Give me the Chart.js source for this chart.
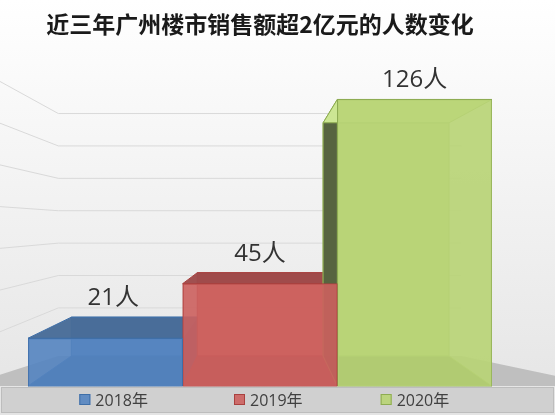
<!DOCTYPE html>
<html><head><meta charset="utf-8">
<script src="https://cdn.jsdelivr.net/npm/chart.js@4/dist/chart.umd.min.js"></script>
<style>html,body{margin:0;padding:0;background:#fff}#w{width:555px;height:415px}</style>
</head><body><div id="w"><canvas id="c"></canvas></div>
<script>
const categories = [""];
const seriesNames = ["2018年", "2019年", "2020年"];
const seriesValues = [21, 45, 126];
const valueSuffix = "人";
const wallTicks = [26, 43.5, 61, 78.5, 96, 113.5, 131];
const titleText = "近三年广州楼市销售额超2亿元的人数变化";

const front = ["rgba(84,132,192,0.9)", "rgba(204,96,94,0.9)", "rgba(184,212,118,0.92)"];
const edge = ["#3f6fa8", "#a9413f", "#8eac52"];
const topC = ["rgba(72,108,152,0.97)", "rgba(158,74,74,0.97)", "rgba(208,234,150,0.97)"];
const sideC = ["rgba(60,95,140,0.95)", "rgba(150,65,65,0.95)", "rgba(84,96,62,0.97)"];
const S = 0.814, VX = 261, VY = 225;
const bk = (x, y) => [VX + S * (x - VX), VY + S * (y - VY)];

function poly(ctx, pts, fill, stroke) {
  ctx.beginPath(); ctx.moveTo(pts[0][0], pts[0][1]);
  for (let i = 1; i < pts.length; i++) ctx.lineTo(pts[i][0], pts[i][1]);
  ctx.closePath();
  if (fill) { ctx.fillStyle = fill; ctx.fill(); }
  if (stroke) { ctx.strokeStyle = stroke; ctx.lineWidth = 1; ctx.stroke(); }
}

const deco = {
  id: 'deco',
  beforeDraw(chart) {
    const { ctx, chartArea: a, scales: { y } } = chart;
    const W = chart.width, H = chart.height;
    ctx.save();
    const g = ctx.createLinearGradient(0, 0, 0, H);
    g.addColorStop(0, '#ffffff'); g.addColorStop(1, '#e4e4e4');
    ctx.fillStyle = g; ctx.fillRect(0, 0, W, H);
    const bl = bk(a.left - 16, a.bottom), br = bk(a.right + 15, a.bottom);
    poly(ctx, [[bl[0], bl[1]], [br[0], br[1]], [W, br[1] + (W - br[0]) * 0.21], [W, a.bottom], [0, a.bottom], [0, bl[1] + bl[0] * 0.32]], '#bfbfbf');
    ctx.strokeStyle = '#d9d9d9'; ctx.lineWidth = 1;
    wallTicks.forEach(v => {
      const p = bk(0, y.getPixelForValue(v)); const yy = p[1];
      const sl = (yy - VY) / (bl[0] - VX);
      ctx.beginPath(); ctx.moveTo(0, yy - bl[0] * sl); ctx.lineTo(bl[0], yy); ctx.lineTo(br[0], yy);
      ctx.stroke();
    });
    ctx.fillStyle = '#d0d0d0'; ctx.fillRect(1, a.bottom + 1, W - 2, H - a.bottom - 3);
    ctx.strokeStyle = '#bdbdbd'; ctx.strokeRect(1.5, a.bottom + 1.5, W - 3, H - a.bottom - 4);
    ctx.restore();
  },
  beforeDatasetsDraw(chart) {
    const { ctx } = chart;
    ctx.save();
    chart.data.datasets.forEach((ds, i) => {
      const b = chart.getDatasetMeta(i).data[0];
      const l = b.x - b.width / 2, r = b.x + b.width / 2, t = b.y, bt = b.base;
      const FL = [l, t], FR = [r, t], FBL = [l, bt], FBR = [r, bt];
      const BL = bk(l, t), BR = bk(r, t), BBL = bk(l, bt), BBR = bk(r, bt);
      poly(ctx, [BL, BR, BBR, BBL], front[i], edge[i]);
      poly(ctx, [FBL, FBR, BBR, BBL], sideC[i], edge[i]);
      if (BL[0] < l) poly(ctx, [FL, BL, BBL, FBL], sideC[i], edge[i]);
      if (BR[0] > r) poly(ctx, [FR, BR, BBR, FBR], sideC[i], edge[i]);
      poly(ctx, [FL, FR, BR, BL], topC[i], edge[i]);
    });
    ctx.restore();
  },
  afterDatasetsDraw(chart) {
    const { ctx, chartArea: a } = chart;
    ctx.save();
    ctx.font = '24px "Open Sans","Noto Sans CJK SC"';
    ctx.fillStyle = '#333333'; ctx.textAlign = 'center'; ctx.textBaseline = 'middle';
    chart.data.datasets.forEach((ds, i) => {
      const b = chart.getDatasetMeta(i).data[0];
      const top = Math.min(b.y, bk(0, b.y)[1]);
      ctx.fillText(ds.data[0] + valueSuffix, b.x + (i === 0 ? 8 : 0), top - 19);
    });
    const ly = a.bottom + 14;
    ctx.font = '16px "Open Sans","Noto Sans CJK SC"';
    ctx.textAlign = 'left';
    chart.data.datasets.forEach((ds, i) => {
      const b = chart.getDatasetMeta(i).data[0];
      const x0 = b.x - 10 - (i === 2 ? 8 : 0);
      ctx.fillStyle = front[i]; ctx.fillRect(x0 - 16, ly - 6, 11, 11);
      ctx.strokeStyle = edge[i]; ctx.strokeRect(x0 - 15.5, ly - 5.5, 10, 10);
      ctx.fillStyle = '#404040'; ctx.fillText(ds.label, x0, ly + 1);
    });
    ctx.restore();
  }
};

new Chart(document.getElementById('c'), {
  type: 'bar',
  data: {
    labels: categories,
    datasets: seriesNames.map((n, i) => ({
      label: n, data: [seriesValues[i]],
      backgroundColor: front[i], borderColor: edge[i], borderWidth: 1,
      barPercentage: 1, categoryPercentage: 1
    }))
  },
  options: {
    responsive: true, maintainAspectRatio: false, animation: false,
    layout: { padding: { left: 28, right: 63, top: 0, bottom: 29 } },
    scales: {
      x: { display: false },
      y: { display: false, min: 0, max: 140 }
    },
    plugins: {
      tooltip: { enabled: false },
      title: {
        display: true, text: titleText, align: 'center',
        color: '#1a1a1a', font: { size: 23, weight: 'bold', family: '"Noto Sans CJK SC"' },
        padding: { top: 10, bottom: 30 }
      },
      legend: { display: false }
    }
  },
  plugins: [deco]
});
</script></body></html>
